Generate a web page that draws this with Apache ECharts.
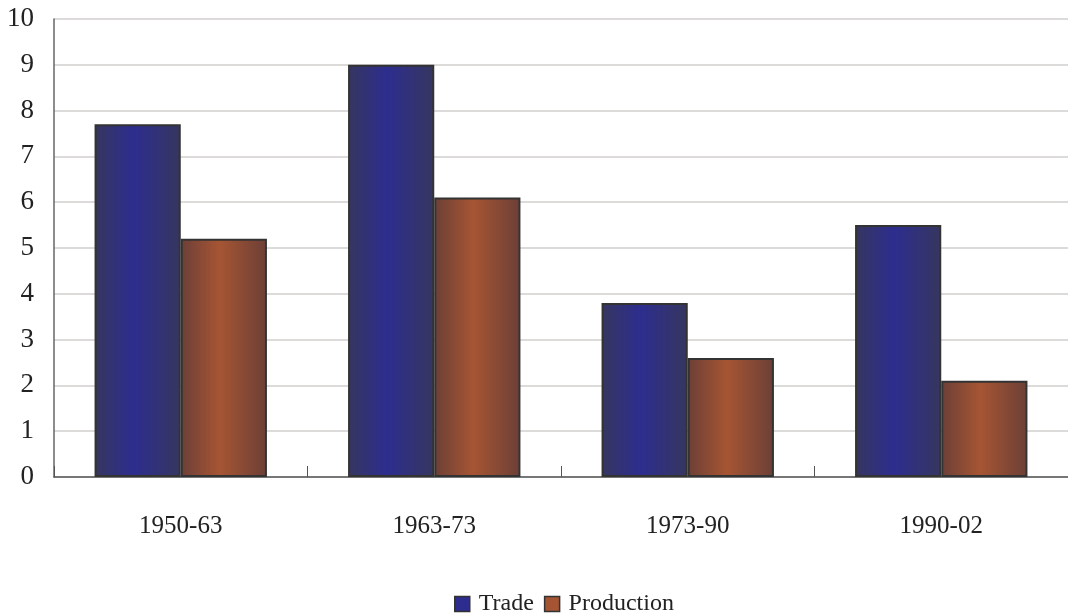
<!DOCTYPE html>
<html>
<head>
<meta charset="utf-8">
<script src="https://cdn.jsdelivr.net/npm/echarts@6/dist/echarts.min.js"></script>
<style>
  html, body { margin: 0; padding: 0; background: #fff; }
  #chart { width: 1068px; height: 615px; }
</style>
</head>
<body>
<div id="chart"></div>
<script>
// Average annual growth rates, per cent
const periods = ['1950-63', '1963-73', '1973-90', '1990-02'];
const trade = [7.7, 9.0, 3.8, 5.5];
const production = [5.2, 6.1, 2.6, 2.1];

const serif = '"Liberation Serif", "Times New Roman", serif';

function barGradient(edge, mid) {
  return new echarts.graphic.LinearGradient(0, 0, 1, 0, [
    { offset: 0, color: edge },
    { offset: 0.45, color: mid },
    { offset: 1, color: edge }
  ]);
}

const chart = echarts.init(document.getElementById('chart'), null, { renderer: 'canvas' });
chart.setOption({
  animation: false,
  backgroundColor: '#ffffff',
  grid: { left: 54, right: 0, top: 19, bottom: 138 },
  legend: {
    top: 587,
    left: 449,
    itemWidth: 15,
    itemHeight: 15,
    itemGap: 10,
    icon: 'rect',
    textStyle: { fontFamily: serif, fontSize: 24, color: '#222', padding: [0, 0, 0, 4] },
    data: [
      { name: 'Trade', itemStyle: { color: '#2d2d8f', borderColor: '#333', borderWidth: 1.5 } },
      { name: 'Production', itemStyle: { color: '#a55533', borderColor: '#333', borderWidth: 1.5 } }
    ]
  },
  xAxis: {
    type: 'category',
    data: periods,
    axisLine: { lineStyle: { color: '#555', width: 1.5 } },
    axisTick: { show: true, inside: true, length: 11, lineStyle: { color: '#555' } },
    axisLabel: { fontFamily: serif, fontSize: 25, color: '#222', margin: 37 }
  },
  yAxis: {
    type: 'value',
    min: 0,
    max: 10,
    interval: 1,
    axisLine: { show: true, lineStyle: { color: '#666', width: 1.5 } },
    axisTick: { show: false },
    splitLine: { lineStyle: { color: '#d2cece', width: 1.5 } },
    axisLabel: { fontFamily: serif, fontSize: 27, color: '#222', margin: 20 }
  },
  series: [
    {
      name: 'Trade',
      type: 'bar',
      data: trade,
      barGap: '0%',
      barCategoryGap: '32%',
      itemStyle: {
        color: barGradient('#36365f', '#2d2d8f'),
        borderColor: '#333333',
        borderWidth: 2
      }
    },
    {
      name: 'Production',
      type: 'bar',
      data: production,
      itemStyle: {
        color: barGradient('#6c3f37', '#a65533'),
        borderColor: '#333333',
        borderWidth: 2
      }
    }
  ]
});
</script>
</body>
</html>
